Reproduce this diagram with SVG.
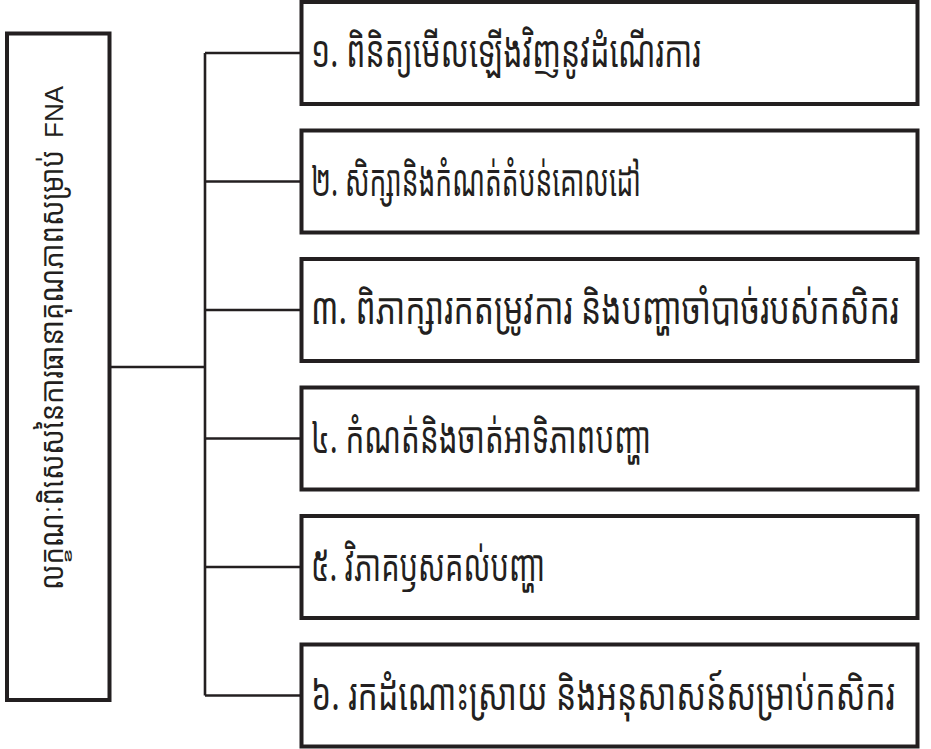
<svg xmlns="http://www.w3.org/2000/svg" width="931" height="749" viewBox="0 0 931 749">
  <style>
    .box { fill: #ffffff; stroke: #231f20; stroke-width: 4; }
    .link { fill: none; stroke: #231f20; stroke-width: 2.6; }
    .label { font-family: "Khmer OS", "Noto Sans Khmer", "Noto Serif Khmer", "Liberation Sans", sans-serif; font-size: 44px; fill: #231f20; }
    .title { font-family: "Khmer OS", "Noto Sans Khmer", "Noto Serif Khmer", "Liberation Sans", sans-serif; font-size: 32px; fill: #231f20; }
    .latin { font-family: "Liberation Sans", Arial, sans-serif; font-size: 26px; fill: #231f20; }
  </style>
  <rect width="931" height="749" fill="#ffffff"/>

  <!-- connectors: root to trunk, trunk, branches -->
  <g id="connectors" class="link">
    <line x1="109" y1="367" x2="205" y2="367"/>
    <line x1="205" y1="53" x2="205" y2="695.5"/>
    <line x1="205" y1="53" x2="301.5" y2="53"/>
    <line x1="205" y1="181.5" x2="301.5" y2="181.5"/>
    <line x1="205" y1="310" x2="301.5" y2="310"/>
    <line x1="205" y1="438.5" x2="301.5" y2="438.5"/>
    <line x1="205" y1="567" x2="301.5" y2="567"/>
    <line x1="205" y1="695.5" x2="301.5" y2="695.5"/>
  </g>

  <!-- root node with vertical title, read bottom to top -->
  <g id="root">
    <rect class="box" x="7" y="33.5" width="102.5" height="666.5"/>
    <g transform="translate(63 590) rotate(-90)">
      <text class="title" x="0" y="0" textLength="440" lengthAdjust="spacingAndGlyphs">លក្ខណៈពិសេសនៃការធានាគុណភាពសម្រាប់</text>
      <text class="latin" x="452" y="0">FNA</text>
    </g>
  </g>

  <!-- step labels use a condensed face: tall glyphs squeezed to 72% width -->
  <g id="step1">
    <rect class="box" x="301.5" y="2" width="616" height="102"/>
    <text class="label" transform="translate(311 67) scale(0.72 1)" textLength="541.7" lengthAdjust="spacingAndGlyphs">១. ពិនិត្យមើលឡើងវិញនូវដំណើរការ</text>
  </g>
  <g id="step2">
    <rect class="box" x="301.5" y="130.5" width="616" height="102"/>
    <text class="label" transform="translate(311 195.5) scale(0.72 1)" textLength="458.3" lengthAdjust="spacingAndGlyphs">២. សិក្សានិងកំណត់តំបន់គោលដៅ</text>
  </g>
  <g id="step3">
    <rect class="box" x="301.5" y="259" width="616" height="102"/>
    <text class="label" transform="translate(311 324) scale(0.72 1)" textLength="816.7" lengthAdjust="spacingAndGlyphs">៣. ពិភាក្សារកតម្រូវការ និងបញ្ហាចាំបាច់របស់កសិករ</text>
  </g>
  <g id="step4">
    <rect class="box" x="301.5" y="387.5" width="616" height="102"/>
    <text class="label" transform="translate(311 452.5) scale(0.72 1)" textLength="472.2" lengthAdjust="spacingAndGlyphs">៤. កំណត់និងចាត់អាទិភាពបញ្ហា</text>
  </g>
  <g id="step5">
    <rect class="box" x="301.5" y="516" width="616" height="102"/>
    <text class="label" transform="translate(311 581) scale(0.72 1)" textLength="325" lengthAdjust="spacingAndGlyphs">៥. វិភាគឫសគល់បញ្ហា</text>
  </g>
  <g id="step6">
    <rect class="box" x="301.5" y="644.5" width="616" height="102"/>
    <text class="label" transform="translate(311 709.5) scale(0.72 1)" textLength="811.1" lengthAdjust="spacingAndGlyphs">៦. រកដំណោះស្រាយ និងអនុសាសន៍សម្រាប់កសិករ</text>
  </g>
</svg>
